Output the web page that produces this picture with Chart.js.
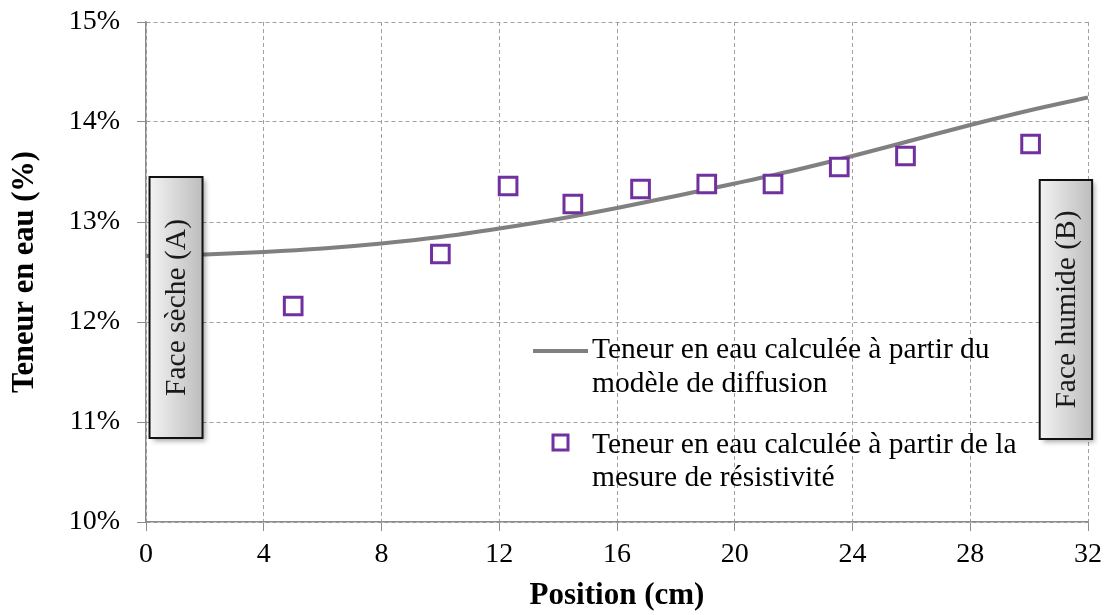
<!DOCTYPE html>
<html>
<head>
<meta charset="utf-8">
<script src="https://cdn.jsdelivr.net/npm/chart.js@4.4.1/dist/chart.umd.min.js"></script>
<style>
  body { margin: 0; background: #fff; }
  canvas { display: block; }
</style>
</head>
<body>
<canvas id="waterChart" width="1108" height="615"></canvas>
<script>
// Diffusion model curve (position in cm, water content in %)
const modelPositions = [0, 2, 4, 6, 8, 10, 12, 14, 16, 18, 20, 22, 24, 26, 28, 30, 32];
const modelValues = [12.66, 12.675, 12.70, 12.735, 12.785, 12.85, 12.935, 13.03, 13.14, 13.26, 13.385, 13.515, 13.66, 13.815, 13.97, 14.115, 14.245];

// Resistivity measurements
const measurePositions = [5, 10, 12.3, 14.5, 16.8, 19.05, 21.3, 23.55, 25.8, 30.05];
const measureValues = [12.16, 12.68, 13.36, 13.18, 13.33, 13.38, 13.38, 13.55, 13.66, 13.78];

// Axis ticks
const xTickValues = [0, 4, 8, 12, 16, 20, 24, 28, 32];
const yTickValues = [10, 11, 12, 13, 14, 15];

// Texts
const modelLabel = ['Teneur en eau calculée à partir du', 'modèle de diffusion'];
const measureLabel = ['Teneur en eau calculée à partir de la', 'mesure de résistivité'];
const faceLabels = ['Face sèche (A)', 'Face humide (B)'];

const SERIF = "'Liberation Serif', 'Times New Roman', serif";
const LINE_GREY = '#808080';
const PURPLE = '#7030A0';

// Side boxes, expressed in axis units
const faceBoxes = [
    { x0: 0.12, x1: 1.92, yTop: 13.45, yBottom: 10.84, text: faceLabels[0] },
    { x0: 30.36, x1: 32.14, yTop: 13.42, yBottom: 10.83, text: faceLabels[1] }
];

function drawFaceBox(ctx, left, top, right, bottom, text) {
    const w = right - left, h = bottom - top;
    ctx.save();
    const grad = ctx.createLinearGradient(left, 0, right, 0);
    grad.addColorStop(0, '#f3f3f3');
    grad.addColorStop(1, '#bdbdbd');
    ctx.shadowColor = 'rgba(0,0,0,0.35)';
    ctx.shadowBlur = 5;
    ctx.shadowOffsetX = 3;
    ctx.shadowOffsetY = 3;
    ctx.fillStyle = grad;
    ctx.fillRect(left, top, w, h);
    ctx.shadowColor = 'transparent';
    ctx.lineWidth = 2;
    ctx.strokeStyle = '#111';
    ctx.strokeRect(left, top, w, h);
    ctx.translate(left + w / 2, top + h / 2);
    ctx.rotate(-Math.PI / 2);
    ctx.fillStyle = '#1a1a1a';
    ctx.font = '29.5px ' + SERIF;
    ctx.textAlign = 'center';
    ctx.textBaseline = 'middle';
    ctx.fillText(text, 0, 1);
    ctx.restore();
}

const overlayPlugin = {
    id: 'overlay',
    afterDatasetsDraw(chart) {
        const { ctx, scales: { x, y } } = chart;

        // legend inside the plot
        ctx.save();
        ctx.font = '29.5px ' + SERIF;
        ctx.fillStyle = '#000';
        ctx.textAlign = 'left';
        ctx.textBaseline = 'alphabetic';
        ctx.strokeStyle = LINE_GREY;
        ctx.lineWidth = 4;
        ctx.beginPath();
        ctx.moveTo(533, 351);
        ctx.lineTo(588, 351);
        ctx.stroke();
        ctx.fillText(modelLabel[0], 592, 358);
        ctx.fillText(modelLabel[1], 592, 392);

        ctx.strokeStyle = PURPLE;
        ctx.lineWidth = 3;
        ctx.fillStyle = '#fff';
        ctx.fillRect(553, 435, 15, 15);
        ctx.strokeRect(553, 435, 15, 15);
        ctx.fillStyle = '#000';
        ctx.fillText(measureLabel[0], 592, 453);
        ctx.fillText(measureLabel[1], 592, 486);
        ctx.restore();

        faceBoxes.forEach(b => {
            drawFaceBox(ctx,
                x.getPixelForValue(b.x0), y.getPixelForValue(b.yTop),
                x.getPixelForValue(b.x1), y.getPixelForValue(b.yBottom), b.text);
        });
    }
};

const ctx = document.getElementById('waterChart').getContext('2d');
new Chart(ctx, {
    type: 'scatter',
    data: {
        datasets: [{
            label: 'Modèle de diffusion',
            type: 'line',
            data: modelPositions.map((p, i) => ({ x: p, y: modelValues[i] })),
            borderColor: LINE_GREY,
            borderWidth: 4,
            pointRadius: 0,
            cubicInterpolationMode: 'monotone',
            fill: false,
            order: 2
        }, {
            label: 'Mesure de résistivité',
            data: measurePositions.map((p, i) => ({ x: p, y: measureValues[i] })),
            pointStyle: 'rect',
            pointRadius: 12.5,
            borderColor: PURPLE,
            borderWidth: 3,
            backgroundColor: '#fff',
            order: 1
        }]
    },
    options: {
        responsive: false,
        animation: false,
        layout: { padding: { top: 22, right: 20, left: 0, bottom: 0 } },
        plugins: {
            legend: { display: false },
            tooltip: { enabled: false }
        },
        scales: {
            x: {
                type: 'linear',
                min: 0,
                max: 32,
                afterBuildTicks: scale => { scale.ticks = xTickValues.map(v => ({ value: v })); },
                afterFit: scale => {
                    scale.height = 93;
                    scale.paddingLeft = 0;
                    scale.paddingRight = 0;
                },
                ticks: {
                    color: '#000',
                    font: { family: SERIF, size: 28 },
                    padding: 7,
                    maxRotation: 0
                },
                grid: { color: '#a0a0a0', lineWidth: 1, tickLength: 9, tickColor: '#8c8c8c' },
                border: { color: '#8c8c8c', width: 1.5, dash: [4, 3] },
                title: {
                    display: true,
                    text: 'Position (cm)',
                    color: '#000',
                    font: { family: SERIF, size: 31, weight: 'bold' },
                    padding: { top: 0, bottom: 0 }
                }
            },
            y: {
                type: 'linear',
                min: 10,
                max: 15,
                afterBuildTicks: scale => { scale.ticks = yTickValues.map(v => ({ value: v })); },
                afterFit: scale => {
                    scale.width = 146;
                    scale.paddingTop = 0;
                    scale.paddingBottom = 0;
                },
                ticks: {
                    color: '#000',
                    font: { family: SERIF, size: 28 },
                    padding: 17,
                    callback: v => v + '%'
                },
                grid: { color: '#a0a0a0', lineWidth: 1, tickLength: 9, tickColor: '#8c8c8c' },
                border: { color: '#8c8c8c', width: 1.5, dash: [4, 3] },
                title: {
                    display: true,
                    text: 'Teneur en eau (%)',
                    color: '#000',
                    font: { family: SERIF, size: 30.5, weight: 'bold' },
                    padding: { top: 7, bottom: 0 }
                }
            }
        }
    },
    plugins: [overlayPlugin]
});
</script>
</body>
</html>
